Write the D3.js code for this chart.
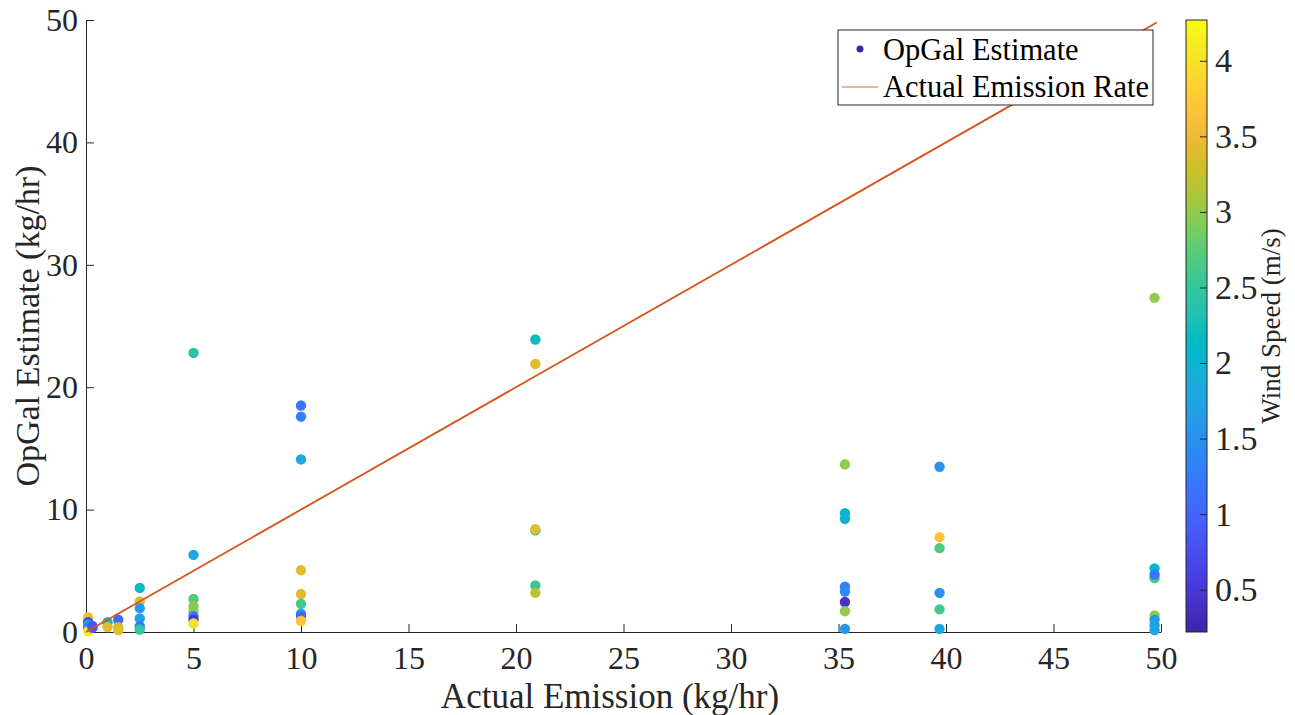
<!DOCTYPE html>
<html>
<head>
<meta charset="utf-8">
<script src="https://cdn.jsdelivr.net/npm/d3@7"></script>
<style>
  body { margin: 0; background: #fff; }
  svg { font-family: "Liberation Serif", "Times New Roman", serif; }
</style>
</head>
<body>
<svg id="chart" width="1295" height="715"></svg>
<script>
const actual = [
  0.1, 0.1, 0.1, 0.1, 0.1, 0.3, 0.3,
  1.0, 1.0, 1.5, 1.5, 1.5,
  2.5, 2.5, 2.5, 2.5, 2.5, 2.5,
  5, 5, 5, 5, 5, 5, 5, 5,
  10, 10, 10, 10, 10, 10, 10, 10, 10,
  20.9, 20.9, 20.9, 20.9, 20.9, 20.9,
  35.3, 35.3, 35.3, 35.3, 35.3, 35.3, 35.3, 35.3,
  39.7, 39.7, 39.7, 39.7, 39.7, 39.7,
  49.7, 49.7, 49.7, 49.7, 49.7, 49.7, 49.7, 49.7
];
const estimate = [
  1.2, 0.8, 0.6, 0.4, 0.05, 0.35, 0.5,
  0.8, 0.4, 1.0, 0.4, 0.15,
  3.6, 2.5, 1.95, 1.1, 0.45, 0.2,
  22.8, 6.3, 2.7, 2.1, 1.7, 1.3, 1.0, 0.7,
  18.5, 17.6, 14.1, 5.05, 3.1, 2.3, 1.5, 1.3, 0.9,
  23.9, 21.9, 8.3, 8.4, 3.8, 3.2,
  13.7, 9.7, 9.25, 3.7, 3.3, 2.45, 1.7, 0.25,
  13.5, 7.75, 6.85, 3.2, 1.85, 0.25,
  27.3, 5.2, 4.4, 4.7, 1.35, 1.0, 0.55, 0.15
];
const wind = [
  3.6, 0.6, 2.1, 1.3, 4.1, 1.0, 0.9,
  2.2, 3.4, 1.1, 3.3, 3.4,
  2.1, 3.4, 1.6, 1.7, 1.2, 2.5,
  2.4, 1.8, 2.7, 3.0, 2.9, 1.2, 0.5, 4.0,
  1.2, 1.3, 1.8, 3.4, 3.4, 2.6, 1.8, 1.0, 3.7,
  2.2, 3.4, 2.5, 3.4, 2.5, 3.2,
  3.0, 2.0, 2.0, 1.3, 1.4, 0.4, 3.0, 1.6,
  1.5, 3.7, 2.7, 1.5, 2.6, 1.8,
  3.0, 2.1, 2.6, 1.2, 3.0, 1.6, 1.7, 1.8
];
const xTicks = [0, 5, 10, 15, 20, 25, 30, 35, 40, 45, 50];
const yTicks = [0, 10, 20, 30, 40, 50];
const cbTicks = [0.5, 1, 1.5, 2, 2.5, 3, 3.5, 4];
const lineX = [0, 49.8];

// colormap parula (una de cada tres entradas del mapa de 64)
const parula = ["#3e26a8", "#4432cb", "#4741e5", "#4852f4", "#4563fd", "#3875fe",
                "#2e87f7", "#2796eb", "#20a5e3", "#12b1d6", "#02bac3", "#24c1ae",
                "#37c897", "#57cc7a", "#81cc59", "#abc739", "#d1bf27", "#f0ba36",
                "#fec338", "#fad62d", "#f5e924", "#f9fb15"];

const svg = d3.select("#chart");
const mLeft = 86, mRight = 1161, mTop = 20, mBottom = 632;
const axisColor = "#262626";

const x = d3.scaleLinear().domain([0, 50]).range([mLeft, mRight]);
const y = d3.scaleLinear().domain([0, 50]).range([mBottom, mTop]);
const cDomain = [0.22, 4.27];
const color = d3.scaleLinear()
  .domain(parula.map((_, i) => cDomain[0] + i * (cDomain[1] - cDomain[0]) / (parula.length - 1)))
  .range(parula)
  .interpolate(d3.interpolateRgb);

// Ejes
const xAxis = svg.append("g")
  .attr("transform", `translate(0,${mBottom})`)
  .call(d3.axisBottom(x).tickValues(xTicks).tickSize(-8).tickPadding(14).tickSizeOuter(0));
const yAxis = svg.append("g")
  .attr("transform", `translate(${mLeft},0)`)
  .call(d3.axisLeft(y).tickValues(yTicks).tickSize(-8).tickPadding(8).tickSizeOuter(0));

[xAxis, yAxis].forEach(g => {
  g.select(".domain").attr("stroke", axisColor).attr("stroke-width", 1);
  g.selectAll(".tick line").attr("stroke", axisColor).attr("stroke-width", 1);
  g.selectAll(".tick text")
    .attr("fill", axisColor)
    .style("font-family", "Liberation Serif, serif")
    .style("font-size", "32px");
});

svg.append("text")
  .attr("x", 610).attr("y", 708)
  .attr("text-anchor", "middle")
  .attr("fill", axisColor)
  .style("font-size", "35px")
  .text("Actual Emission (kg/hr)");

svg.append("text")
  .attr("transform", `translate(39,${(mTop + mBottom) / 2}) rotate(-90)`)
  .attr("text-anchor", "middle")
  .attr("fill", axisColor)
  .style("font-size", "34px")
  .text("OpGal Estimate (kg/hr)");

// Puntos
const pts = actual.map((a, i) => ({a: a, e: estimate[i], w: wind[i]}));
svg.append("g").selectAll("circle")
  .data(pts)
  .enter()
  .append("circle")
  .attr("cx", d => x(d.a))
  .attr("cy", d => y(d.e))
  .attr("r", 5.2)
  .attr("fill", d => color(d.w));

// Linea de emision real
svg.append("line")
  .attr("x1", x(lineX[0])).attr("y1", y(lineX[0]))
  .attr("x2", x(lineX[1])).attr("y2", y(lineX[1]))
  .attr("stroke", "#d95319")
  .attr("stroke-width", 1.8);

// Leyenda
const leg = svg.append("g");
leg.append("rect")
  .attr("x", 838).attr("y", 30).attr("width", 315).attr("height", 75)
  .attr("fill", "#fff").attr("stroke", axisColor).attr("stroke-width", 1);
leg.append("circle").attr("cx", 860).attr("cy", 49).attr("r", 3.5).attr("fill", parula[0]);
leg.append("text").attr("x", 883).attr("y", 60).attr("fill", "#000")
  .style("font-size", "30.5px").text("OpGal Estimate");
leg.append("line").attr("x1", 842).attr("x2", 878).attr("y1", 87).attr("y2", 87)
  .attr("stroke", "#d95319").attr("stroke-opacity", 0.6).attr("stroke-width", 1.5);
leg.append("text").attr("x", 883).attr("y", 97).attr("fill", "#000")
  .style("font-size", "30.5px").text("Actual Emission Rate");

// Barra de color
const cbX = 1186, cbW = 21;
const cScale = d3.scaleLinear().domain(cDomain).range([mBottom, mTop]);
const grad = svg.append("defs").append("linearGradient")
  .attr("id", "parula").attr("x1", 0).attr("x2", 0).attr("y1", 1).attr("y2", 0);
parula.forEach((c, i) => {
  grad.append("stop").attr("offset", i / (parula.length - 1)).attr("stop-color", c);
});
svg.append("rect")
  .attr("x", cbX).attr("y", mTop).attr("width", cbW).attr("height", mBottom - mTop)
  .attr("fill", "url(#parula)").attr("stroke", axisColor).attr("stroke-width", 1);

const cbAxis = svg.append("g")
  .attr("transform", `translate(${cbX + cbW},0)`)
  .call(d3.axisRight(cScale).tickValues(cbTicks).tickFormat(d => String(d))
    .tickSize(-7).tickPadding(8).tickSizeOuter(0));
cbAxis.select(".domain").remove();
cbAxis.selectAll(".tick line").attr("stroke", axisColor);
cbAxis.selectAll(".tick text")
  .attr("fill", axisColor)
  .style("font-family", "Liberation Serif, serif")
  .style("font-size", "34px");

svg.append("text")
  .attr("transform", `translate(1280,${(mTop + mBottom) / 2}) rotate(-90)`)
  .attr("text-anchor", "middle")
  .attr("fill", axisColor)
  .style("font-size", "27px")
  .text("Wind Speed (m/s)");
</script>
</body>
</html>
